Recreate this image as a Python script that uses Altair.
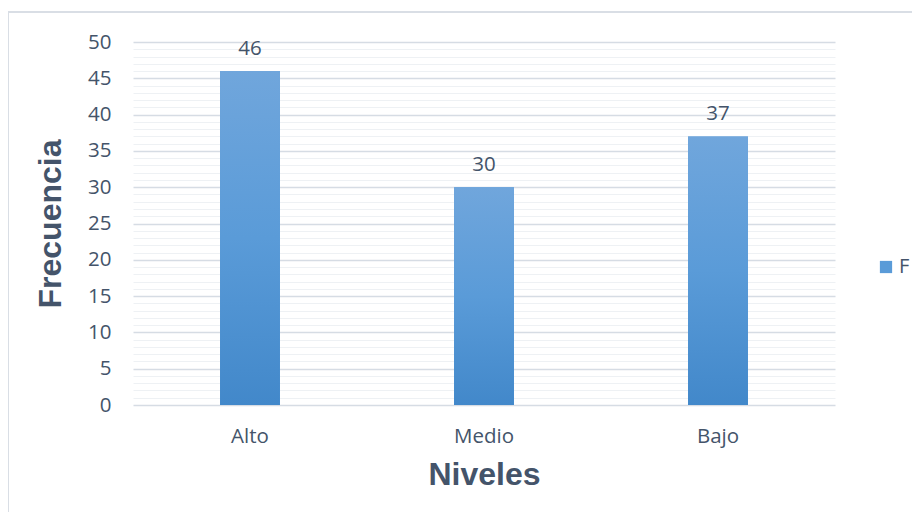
import altair as alt
import pandas as pd

categories = ["Alto", "Medio", "Bajo"]
values = [46, 30, 37]
series_name = "F"

df = pd.DataFrame({"nivel": categories, "frecuencia": values, "serie": [series_name] * 3})

TXT = "#44546a"
grid_vals = list(range(0, 51))

x_enc = alt.X("nivel:N", sort=categories,
              scale=alt.Scale(paddingInner=0.744, paddingOuter=0.372),
              axis=alt.Axis(title="Niveles", labelAngle=0, labelFont="Open Sans",
                            labelFontSize=20.5, labelColor=TXT, labelPadding=21,
                            titleFont="Liberation Sans", titleFontSize=32,
                            titleFontWeight="bold", titleColor=TXT, titlePadding=13,
                            domain=False, ticks=False))
y_enc = alt.Y("frecuencia:Q", scale=alt.Scale(domain=[0, 50], nice=False),
              axis=alt.Axis(title="Frecuencia", values=grid_vals, tickCount=100,
                            labelOverlap=False, format="d",
                            labelExpr="datum.value % 5 === 0 ? datum.label : ''",
                            labelFont="Open Sans", labelFontSize=20.5, labelColor=TXT,
                            labelPadding=22, labelBound=False,
                            titleFont="Liberation Sans", titleFontSize=32,
                            titleFontWeight="bold", titleColor=TXT, titlePadding=20,
                            domain=False, ticks=False,
                            gridColor=alt.condition("datum.value % 5 === 0",
                                                    alt.value("#d6dce4"),
                                                    alt.value("#eef1f4")),
                            gridWidth=alt.condition("datum.value % 5 === 0",
                                                    alt.value(1.6),
                                                    alt.value(1.0))))

base = alt.Chart(df)

legend_bars = base.mark_bar().encode(
    x=x_enc, y=y_enc,
    color=alt.Color("serie:N", scale=alt.Scale(range=["#5a9bd8"]),
                    legend=alt.Legend(title=None, orient="none", legendX=743, legendY=215,
                                      symbolType="square", symbolSize=150,
                                      labelFont="Open Sans", labelFontSize=20,
                                      labelColor=TXT, labelOffset=3)))

gradient = alt.Gradient(gradient="linear",
                        stops=[alt.GradientStop(color="#70a6dc", offset=0),
                               alt.GradientStop(color="#5a9bd8", offset=0.5),
                               alt.GradientStop(color="#4288ca", offset=1)],
                        x1=0, x2=0, y1=0, y2=1)

grad_bars = base.mark_bar(fill=gradient).encode(x=x_enc, y=y_enc)

labels = base.mark_text(baseline="bottom", dy=-12, font="Open Sans", fontSize=20.5,
                        color=TXT).encode(x=alt.X("nivel:N", sort=categories),
                                          y="frecuencia:Q", text="frecuencia:Q")

border = alt.Chart(pd.DataFrame({"a": [0]})).mark_rect(
    fill=None, stroke="#d9dee5", strokeWidth=2).encode(
    x=alt.value(-125), x2=alt.value(900), y=alt.value(-30), y2=alt.value(600))

chart = alt.layer(border, legend_bars, grad_bars, labels).properties(
    width=702, height=363,
    padding={"left": 125, "top": 34, "right": 77, "bottom": 107},
    autosize=alt.AutoSizeParams(type="none"),
).configure(background="white").configure_view(stroke=None)

chart.save("out.html", embed_options={"renderer": "svg", "actions": False})
